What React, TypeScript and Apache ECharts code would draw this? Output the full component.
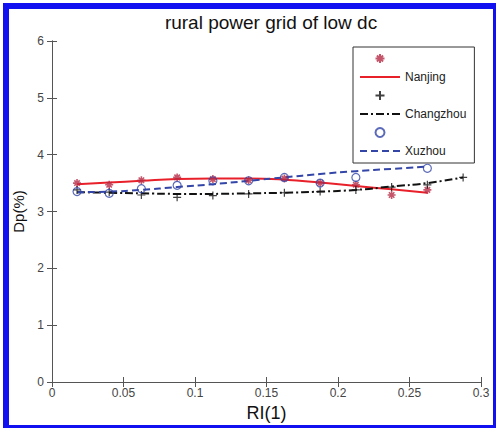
import React, { useEffect, useRef } from "react";
import * as echarts from "echarts";

const xTicks = [0, 0.05, 0.1, 0.15, 0.2, 0.25, 0.3];
const xs = [0.0175, 0.04, 0.0625, 0.0875, 0.1125, 0.1375, 0.1625, 0.1875, 0.2125, 0.2375, 0.2625];
const nanjingObs = [3.5, 3.47, 3.55, 3.6, 3.57, 3.55, 3.58, 3.5, 3.47, 3.29, 3.38];
const nanjingFit = [3.48, 3.51, 3.54, 3.57, 3.58, 3.58, 3.56, 3.51, 3.45, 3.39, 3.33];
const changzhouXs = [0.0175, 0.04, 0.0625, 0.0875, 0.1125, 0.1375, 0.1625, 0.1875, 0.2125, 0.2375, 0.2625, 0.2875];
const changzhouObs = [3.38, 3.34, 3.29, 3.25, 3.28, 3.31, 3.33, 3.35, 3.38, 3.43, 3.47, 3.6];
const changzhouFit = [3.34, 3.33, 3.32, 3.31, 3.31, 3.32, 3.33, 3.35, 3.38, 3.44, 3.5, 3.6];
const xuzhouXs = [0.0175, 0.04, 0.0625, 0.0875, 0.1125, 0.1375, 0.1625, 0.1875, 0.2125, 0.2625];
const xuzhouObs = [3.35, 3.32, 3.4, 3.46, 3.54, 3.54, 3.6, 3.5, 3.6, 3.76];
const xuzhouFit = [3.34, 3.35, 3.38, 3.43, 3.48, 3.54, 3.6, 3.66, 3.71, 3.75, 3.79];

const FONT = "Liberation Sans";
const zip = (a: number[], b: number[]) => a.map((v, i) => [v, b[i]]);

const ASTERISK = "path://M5 0V10M0 5H10M1.6 1.6L8.4 8.4M1.6 8.4L8.4 1.6";
const PLUS = "path://M5 0V10M0 5H10";

export default function App() {
  const ref = useRef<HTMLDivElement>(null);
  useEffect(() => {
    document.body.style.margin = "0";
    const chart = echarts.init(ref.current!, null, { renderer: "svg" });
    const axisCommon = {
      axisLine: { lineStyle: { color: "#555", width: 1 } },
      axisTick: { inside: true, length: 5, lineStyle: { color: "#555" } },
      splitLine: { show: false },
    };
    const hideSym = { itemStyle: { opacity: 0 } };
    chart.setOption({
      animation: false,
      backgroundColor: "#fff",
      title: {
        text: "rural power grid of low dc",
        left: 266,
        textAlign: "center",
        top: 8,
        textStyle: { fontFamily: FONT, fontSize: 19, fontWeight: "normal", color: "#111" },
      },
      grid: { left: 52, right: 15, top: 41, bottom: 46 },
      xAxis: [
        {
          type: "value",
          min: 0,
          max: 0.3,
          interval: 0.05,
          name: "RI(1)",
          nameLocation: "middle",
          nameGap: 17,
          nameTextStyle: { fontFamily: FONT, fontSize: 18, color: "#111" },
          axisLabel: {
            fontFamily: FONT,
            fontSize: 12,
            color: "#444",
            margin: 5,
            formatter: (v: number) => {
              const t = xTicks.find((x) => Math.abs(x - v) < 1e-9);
              return t === undefined ? "" : String(t);
            },
          },
          ...axisCommon,
        },
        {
          type: "value",
          position: "top",
          min: 0,
          max: 0.3,
          interval: 0.05,
          axisLabel: { show: false },
          ...axisCommon,
        },
      ],
      yAxis: [
        {
          type: "value",
          min: 0,
          max: 6,
          interval: 1,
          name: "Dp(%)",
          nameLocation: "middle",
          nameGap: 23,
          nameTextStyle: { fontFamily: FONT, fontSize: 15, color: "#111" },
          axisLabel: { fontFamily: FONT, fontSize: 12, color: "#444", margin: 8 },
          ...axisCommon,
        },
        {
          type: "value",
          position: "right",
          min: 0,
          max: 6,
          interval: 1,
          axisLabel: { show: false },
          ...axisCommon,
        },
      ],
      legend: {
        orient: "vertical",
        left: 353,
        top: 47,
        padding: [6, 8, 6, 6],
        itemWidth: 40,
        itemHeight: 9,
        itemGap: 7,
        borderColor: "#333",
        borderWidth: 1,
        backgroundColor: "#fff",
        textStyle: { fontFamily: FONT, fontSize: 12, color: "#222" },
        formatter: (name: string) => (name.startsWith("_") ? "" : name),
        data: [
          "_n",
          { name: "Nanjing", ...hideSym },
          "_c",
          { name: "Changzhou", ...hideSym },
          "_x",
          { name: "Xuzhou", ...hideSym },
        ],
      },
      series: [
        {
          name: "_n",
          type: "scatter",
          data: zip(xs, nanjingObs),
          symbol: ASTERISK,
          symbolSize: 8,
          itemStyle: { color: "rgba(0,0,0,0)", borderColor: "#b52a45", borderWidth: 1.6 },
          z: 5,
        },
        {
          name: "Nanjing",
          type: "line",
          data: zip(xs, nanjingFit),
          smooth: true,
          symbol: "none",
          lineStyle: { color: "#e8202a", width: 2 },
          z: 3,
        },
        {
          name: "_c",
          type: "scatter",
          data: zip(changzhouXs, changzhouObs),
          symbol: PLUS,
          symbolSize: 8,
          itemStyle: { color: "rgba(0,0,0,0)", borderColor: "#111", borderWidth: 1.2 },
          z: 5,
        },
        {
          name: "Changzhou",
          type: "line",
          data: zip(changzhouXs, changzhouFit),
          smooth: true,
          symbol: "none",
          lineStyle: { color: "#111", width: 2, type: [8, 3, 2, 3] },
          z: 3,
        },
        {
          name: "_x",
          type: "scatter",
          data: zip(xuzhouXs, xuzhouObs),
          symbol: "circle",
          symbolSize: 8,
          itemStyle: { color: "rgba(255,255,255,0)", borderColor: "#3346a8", borderWidth: 1.2 },
          z: 5,
        },
        {
          name: "Xuzhou",
          type: "line",
          data: zip(xs, xuzhouFit),
          smooth: true,
          symbol: "none",
          lineStyle: { color: "#3346a8", width: 2, type: [7, 4] },
          z: 3,
        },
      ],
      graphic: [
        {
          type: "rect",
          shape: { x: 6, y: 6, width: 490, height: 422 },
          style: { fill: "none", stroke: "#1010f0", lineWidth: 6 },
          z: 100,
        },
      ],
    });
    return () => chart.dispose();
  }, []);
  return <div ref={ref} style={{ width: 496, height: 428 }} />;
}
